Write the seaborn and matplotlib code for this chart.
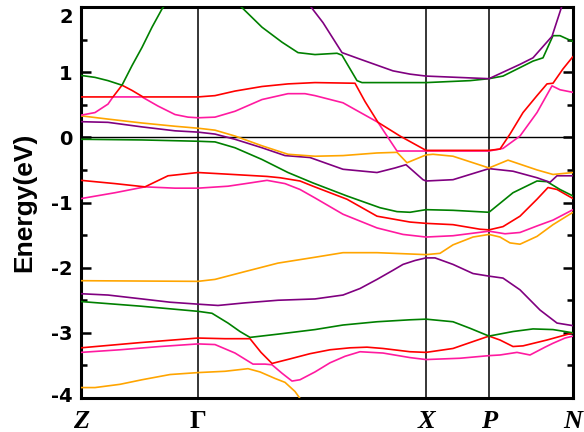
import numpy as np
import pandas as pd
import matplotlib
matplotlib.use("Agg")
import matplotlib.pyplot as plt
import matplotlib.transforms as mtransforms
import seaborn as sns
from matplotlib.ticker import MultipleLocator

# ---------------- data (k = path distance, E = energy in eV) ----------------
kpt_pos = [0.0, 1.17, 3.45, 4.08, 4.92]
kpt_labels = ["Z", "Γ", "X", "P", "N"]

band_colors = ["#ffa500", "#ff1aa0", "#ff0000", "#008000", "#800080"]

b01_k = [0.00, 0.14, 0.39, 0.61, 0.89, 1.17, 1.44, 1.67, 1.79, 1.94, 2.04, 2.14, 2.21]
b01_e = [-3.84, -3.84, -3.79, -3.72, -3.64, -3.61, -3.59, -3.55, -3.60, -3.70, -3.76, -3.90, -4.05]

b02_k = [0.00, 0.39, 0.79, 1.17, 1.34, 1.54, 1.72, 1.84, 1.91, 2.01, 2.11, 2.19, 2.34, 2.49,
         2.64, 2.79, 3.02, 3.29, 3.45, 3.79, 4.08, 4.19, 4.36, 4.49, 4.64, 4.72, 4.84, 4.92]
b02_e = [-3.30, -3.26, -3.21, -3.17, -3.18, -3.31, -3.48, -3.48, -3.49, -3.62, -3.74, -3.72,
         -3.60, -3.46, -3.36, -3.29, -3.31, -3.38, -3.41, -3.39, -3.35, -3.34, -3.30, -3.34,
         -3.22, -3.16, -3.08, -3.05]

b03_k = [0.00, 0.59, 1.17, 1.44, 1.69, 1.80, 1.91, 2.09, 2.29, 2.49, 2.69, 2.86, 3.02, 3.29,
         3.45, 3.72, 3.89, 4.08, 4.19, 4.32, 4.42, 4.66, 4.92]
b03_e = [-3.23, -3.15, -3.08, -3.09, -3.09, -3.30, -3.47, -3.40, -3.32, -3.26, -3.23, -3.22,
         -3.24, -3.29, -3.30, -3.24, -3.15, -3.05, -3.11, -3.21, -3.20, -3.11, -3.00]

b04_k = [0.00, 0.59, 1.17, 1.31, 1.47, 1.59, 1.69, 1.97, 2.34, 2.62, 2.96, 3.29, 3.45, 3.72,
         3.89, 4.08, 4.32, 4.52, 4.72, 4.92]
b04_e = [-2.52, -2.59, -2.67, -2.70, -2.85, -2.98, -3.07, -3.02, -2.95, -2.88, -2.83, -2.80,
         -2.79, -2.83, -2.93, -3.05, -2.98, -2.94, -2.95, -3.00]

b05_k = [0.00, 0.27, 0.61, 0.89, 1.17, 1.37, 1.64, 1.97, 2.34, 2.62, 2.79, 2.96, 3.12, 3.22,
         3.34, 3.45, 3.54, 3.72, 3.92, 4.08, 4.22, 4.39, 4.59, 4.76, 4.92]
b05_e = [-2.40, -2.42, -2.48, -2.53, -2.56, -2.58, -2.54, -2.50, -2.48, -2.42, -2.32, -2.18,
         -2.04, -1.95, -1.89, -1.85, -1.85, -1.95, -2.09, -2.13, -2.16, -2.34, -2.65, -2.85, -2.89]

b06_k = [0.00, 1.17, 1.34, 1.64, 1.97, 2.34, 2.62, 2.96, 3.29, 3.45, 3.59, 3.72, 3.92, 4.08,
         4.19, 4.29, 4.39, 4.56, 4.72, 4.92]
b06_e = [-2.20, -2.21, -2.18, -2.06, -1.93, -1.84, -1.77, -1.77, -1.79, -1.80, -1.78, -1.65,
         -1.53, -1.49, -1.53, -1.62, -1.64, -1.52, -1.34, -1.15]

b07_k = [0.00, 0.34, 0.64, 0.94, 1.17, 1.47, 1.69, 1.86, 2.04, 2.19, 2.34, 2.62, 2.96, 3.22,
         3.45, 3.72, 4.08, 4.24, 4.39, 4.56, 4.72, 4.92]
b07_e = [-0.94, -0.85, -0.76, -0.78, -0.78, -0.75, -0.70, -0.66, -0.71, -0.80, -0.93, -1.18,
         -1.39, -1.49, -1.53, -1.51, -1.44, -1.48, -1.46, -1.36, -1.27, -1.11]

b08_k = [0.00, 0.34, 0.64, 0.87, 1.17, 1.52, 1.86, 1.99, 2.19, 2.32, 2.66, 2.96, 3.29, 3.45,
         3.72, 3.99, 4.08, 4.22, 4.39, 4.56, 4.67, 4.76, 4.92]
b08_e = [-0.66, -0.71, -0.76, -0.59, -0.54, -0.57, -0.60, -0.62, -0.67, -0.75, -0.95, -1.21,
         -1.30, -1.32, -1.34, -1.41, -1.42, -1.37, -1.21, -0.95, -0.77, -0.80, -0.94]

b09_k = [0.00, 0.61, 1.17, 1.34, 1.54, 1.81, 2.07, 2.32, 2.66, 2.99, 3.16, 3.29, 3.45, 3.72,
         4.08, 4.32, 4.56, 4.66, 4.79, 4.92]
b09_e = [-0.03, -0.04, -0.06, -0.07, -0.16, -0.34, -0.54, -0.70, -0.90, -1.08, -1.14, -1.15,
         -1.11, -1.12, -1.15, -0.85, -0.67, -0.68, -0.80, -0.90]

b10_k = [0.00, 0.27, 0.61, 0.94, 1.17, 1.34, 1.54, 1.81, 2.04, 2.29, 2.62, 2.96, 3.14, 3.25,
         3.42, 3.45, 3.72, 4.08, 4.32, 4.56, 4.69, 4.76, 4.92]
b10_e = [0.24, 0.23, 0.16, 0.10, 0.08, 0.05, -0.03, -0.16, -0.28, -0.31, -0.49, -0.54, -0.47,
         -0.42, -0.65, -0.67, -0.65, -0.48, -0.52, -0.62, -0.69, -0.59, -0.59]

b11_k = [0.00, 0.27, 0.61, 0.94, 1.17, 1.34, 1.54, 1.81, 2.07, 2.34, 2.62, 2.96, 3.16, 3.26,
         3.45, 3.52, 3.72, 4.08, 4.27, 4.56, 4.72, 4.92]
b11_e = [0.33, 0.28, 0.22, 0.17, 0.14, 0.11, 0.02, -0.13, -0.26, -0.29, -0.28, -0.24, -0.23,
         -0.39, -0.27, -0.26, -0.29, -0.47, -0.35, -0.50, -0.57, -0.54]

b12_k = [0.00, 0.14, 0.27, 0.32, 0.61, 0.77, 0.94, 1.07, 1.17, 1.34, 1.54, 1.81, 2.07, 2.24,
         2.34, 2.62, 2.97, 3.06, 3.16, 3.45, 4.08, 4.22, 4.39, 4.56, 4.71, 4.79, 4.92]
b12_e = [0.34, 0.38, 0.51, 0.62, 0.62, 0.48, 0.35, 0.31, 0.30, 0.31, 0.40, 0.58, 0.67, 0.67,
         0.64, 0.53, 0.23, 0.02, -0.21, -0.21, -0.21, -0.17, 0.02, 0.38, 0.79, 0.73, 0.69]

b13_k = [0.00, 0.32, 0.41, 0.51, 0.62, 1.17, 1.34, 1.54, 1.81, 2.07, 2.34, 2.74, 2.84, 2.97,
         3.19, 3.45, 4.08, 4.19, 4.29, 4.42, 4.56, 4.66, 4.72, 4.82, 4.92]
b13_e = [0.62, 0.62, 0.80, 0.72, 0.62, 0.62, 0.64, 0.71, 0.78, 0.82, 0.84, 0.83, 0.55, 0.23,
         0.02, -0.20, -0.20, -0.18, 0.05, 0.38, 0.64, 0.82, 0.83, 1.05, 1.24]

b14_k = [0.00, 0.14, 0.27, 0.41, 0.51, 0.61, 0.71, 0.81, 0.85, 1.04, 1.17, 1.39, 1.59, 1.81,
         2.01, 2.17, 2.34, 2.56, 2.61, 2.76, 2.81, 3.45, 3.89, 4.08, 4.22, 4.39, 4.52, 4.62,
         4.72, 4.79, 4.92]
b14_e = [0.95, 0.92, 0.87, 0.80, 1.10, 1.38, 1.69, 1.97, 2.05, 2.30, 2.35, 2.25, 2.02, 1.69,
         1.46, 1.30, 1.27, 1.29, 1.26, 0.87, 0.84, 0.84, 0.87, 0.90, 0.94, 1.07, 1.17, 1.22,
         1.56, 1.56, 1.47]

b15_k = [0.00, 1.17, 2.09, 2.19, 2.29, 2.42, 2.61, 2.79, 3.12, 3.29, 3.45, 4.08, 4.39, 4.52,
         4.71, 4.81, 4.89]
b15_e = [2.60, 2.80, 2.50, 2.25, 2.02, 1.76, 1.30, 1.20, 1.02, 0.97, 0.94, 0.90, 1.12, 1.22,
         1.55, 2.02, 2.30]

bands_k = [b01_k, b02_k, b03_k, b04_k, b05_k, b06_k, b07_k, b08_k, b09_k, b10_k,
           b11_k, b12_k, b13_k, b14_k, b15_k]
bands_e = [b01_e, b02_e, b03_e, b04_e, b05_e, b06_e, b07_e, b08_e, b09_e, b10_e,
           b11_e, b12_e, b13_e, b14_e, b15_e]

# ---------------- build long-form table ----------------
frames = []
palette = {}
for i, (ks, es) in enumerate(zip(bands_k, bands_e)):
    name = f"band{i + 1:02d}"
    frames.append(pd.DataFrame({"k": ks, "E": es, "band": name}))
    palette[name] = band_colors[i % len(band_colors)]
df = pd.concat(frames, ignore_index=True)

# ---------------- plot ----------------
sns.set_style("white")
plt.rcParams["axes.unicode_minus"] = False
plt.rcParams["font.family"] = ["Liberation Sans", "DejaVu Sans"]
plt.rcParams["text.color"] = "black"
plt.rcParams["axes.labelcolor"] = "black"
plt.rcParams["xtick.color"] = "black"
plt.rcParams["ytick.color"] = "black"
plt.rcParams["axes.edgecolor"] = "black"

fig = plt.figure(figsize=(5.84, 4.32), dpi=100)
ax = fig.add_axes([81 / 584, 1 - 398 / 432, (573 - 81) / 584, (398 - 7) / 432])

for xv in kpt_pos[1:-1]:
    ax.axvline(xv, color="black", lw=1.1, zorder=1)
ax.axhline(0, color="black", lw=1.0, zorder=1)

sns.lineplot(data=df, x="k", y="E", hue="band", palette=palette, estimator=None,
             sort=False, legend=False, linewidth=1.2, ax=ax, zorder=3)

ax.set_xlim(kpt_pos[0], kpt_pos[-1])
ax.set_ylim(-4, 2)

ax.set_xticks(kpt_pos)
ax.set_xticklabels(kpt_labels)
for lab in ax.get_xticklabels():
    lab.set_fontfamily("Liberation Serif")
    lab.set_fontsize(19)
    lab.set_fontweight("bold")
    lab.set_color("black")
    lab.set_fontstyle("normal" if lab.get_text() == "Γ" else "italic")
ax.tick_params(axis="x", length=0, pad=9, colors="black")

ax.yaxis.set_major_locator(MultipleLocator(1))
ax.yaxis.set_minor_locator(MultipleLocator(0.5))
ax.tick_params(axis="y", which="major", direction="in", length=7, width=1.8,
               left=True, right=True, labelsize=14, pad=6, colors="black")
ax.tick_params(axis="y", which="minor", direction="in", length=4, width=1.8,
               left=True, right=True, colors="black")
for lab in ax.get_yticklabels():
    lab.set_fontweight("bold")
    lab.set_fontfamily(["DejaVu Sans"])
    lab.set_color("black")

# keep the extreme labels inside the frame, as in the reference
for t in ax.yaxis.get_major_ticks():
    loc = t.get_loc()
    if abs(loc - 2) < 1e-6:
        off = mtransforms.ScaledTranslation(0, -8 / 100, fig.dpi_scale_trans)
        t.label1.set_transform(t.label1.get_transform() + off)
    elif abs(loc + 4) < 1e-6:
        off = mtransforms.ScaledTranslation(0, 3 / 100, fig.dpi_scale_trans)
        t.label1.set_transform(t.label1.get_transform() + off)

ax.set_xlabel("")
ax.set_ylabel("Energy(eV)", fontsize=19, fontweight="bold", color="black")
ax.yaxis.set_label_coords((36 - 81) / 492, 0.5)

for sp in ax.spines.values():
    sp.set_linewidth(2.2)
    sp.set_color("black")

fig.savefig("out.png", dpi=100)
